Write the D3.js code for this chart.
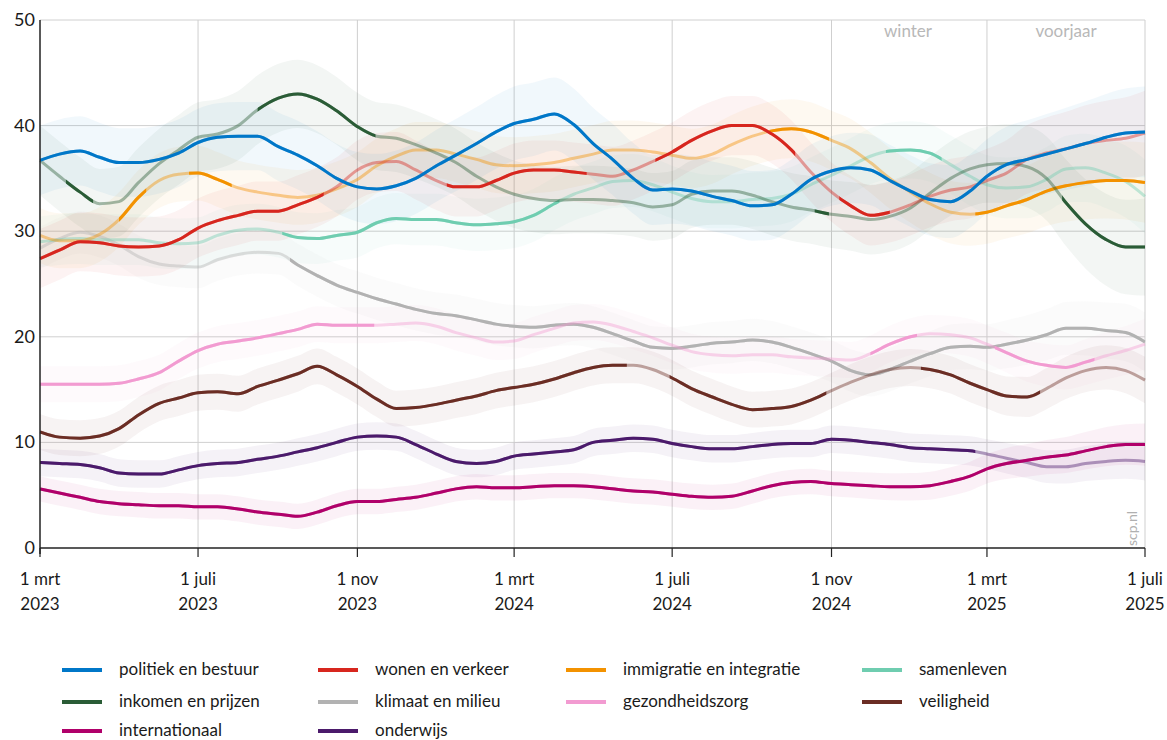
<!DOCTYPE html>
<html><head><meta charset="utf-8">
<script src="https://cdn.jsdelivr.net/npm/d3@7"></script>
<style>
body{margin:0;background:#fff;}
svg text{font-family:Lato,"Open Sans",sans-serif;}
</style></head><body>
<svg id="chart" width="1167" height="740"></svg>
<script>
// ---------- data ----------
const dates = [
 "2023-03-01","2023-03-16","2023-04-01","2023-04-16","2023-05-01","2023-05-16","2023-06-01","2023-06-16",
 "2023-07-01","2023-07-16","2023-08-01","2023-08-16","2023-09-01","2023-09-16","2023-10-01","2023-10-16",
 "2023-11-01","2023-11-16","2023-12-01","2023-12-16",
 "2024-01-01","2024-01-16","2024-02-01","2024-02-16","2024-03-01","2024-03-16","2024-04-01","2024-04-16",
 "2024-05-01","2024-05-16","2024-06-01","2024-06-16","2024-07-01","2024-07-16","2024-08-01","2024-08-16",
 "2024-09-01","2024-09-16","2024-10-01","2024-10-16","2024-11-01","2024-11-16","2024-12-01","2024-12-16",
 "2025-01-01","2025-01-16","2025-02-01","2025-02-16","2025-03-01","2025-03-16","2025-04-01","2025-04-16",
 "2025-05-01","2025-05-16","2025-06-01","2025-06-16","2025-07-01"];

const tickDates = ["2023-03-01","2023-07-01","2023-11-01","2024-03-01","2024-07-01","2024-11-01","2025-03-01","2025-07-01"];
const tickLine1 = ["1 mrt","1 juli","1 nov","1 mrt","1 juli","1 nov","1 mrt","1 juli"];
const tickLine2 = ["2023","2023","2023","2024","2024","2024","2025","2025"];
const yTicks = [0,10,20,30,40,50];

const categories = ["politiek en bestuur","wonen en verkeer","immigratie en integratie","samenleven",
  "inkomen en prijzen","klimaat en milieu","gezondheidszorg","veiligheid","internationaal","onderwijs"];
const colors = ["#0077c8","#d7261e","#f39200","#6fcdb0","#2a5c36","#b2b2b2","#f29bd1","#6b2d24","#b0006a","#4b1a6b"];

const politiek = [36.7,37.3,37.6,37.0,36.5,36.5,36.8,37.4,38.4,38.9,39.0,39.0,38.0,37.2,36.2,35.0,34.2,34.0,34.3,35.0,
  36.2,37.2,38.3,39.4,40.2,40.6,41.1,40.1,38.3,36.8,35.0,33.9,34.0,33.8,33.3,32.9,32.4,32.5,33.5,34.9,
  35.7,36.0,35.8,34.8,33.8,33.0,32.8,33.8,35.2,36.3,36.8,37.3,37.8,38.3,38.9,39.3,39.4];
const wonen = [27.4,28.2,29.0,28.9,28.6,28.5,28.6,29.2,30.3,31.0,31.5,31.9,31.9,32.5,33.2,34.2,35.8,36.5,36.6,35.8,
  34.8,34.2,34.2,34.8,35.5,35.8,35.8,35.6,35.4,35.2,35.8,36.6,37.5,38.6,39.5,40.0,40.0,39.2,37.7,35.6,
  33.7,32.4,31.5,31.8,32.5,33.3,33.9,34.2,34.8,35.5,36.8,37.4,37.8,38.3,38.6,38.8,39.3];
const immigratie = [29.6,29.1,29.1,29.7,31.1,33.2,34.8,35.4,35.5,34.9,34.1,33.7,33.4,33.2,33.4,34.0,34.9,36.2,37.1,37.7,
  37.7,37.3,36.8,36.3,36.2,36.3,36.5,36.9,37.3,37.7,37.7,37.5,37.2,36.9,37.3,38.2,39.0,39.5,39.7,39.4,
  38.6,37.8,36.5,35.0,33.7,32.6,31.8,31.6,31.8,32.4,33.0,33.8,34.3,34.6,34.8,34.8,34.6];
const samenleven = [29.0,29.2,29.3,29.2,29.2,29.2,28.9,28.8,28.9,29.6,30.1,30.2,29.9,29.4,29.3,29.6,29.9,30.8,31.2,31.1,
  31.1,30.8,30.6,30.7,30.9,31.5,32.6,33.5,34.1,34.7,34.8,34.4,33.7,33.1,32.8,32.8,33.0,33.1,33.5,34.4,
  35.3,36.2,37.1,37.6,37.7,37.4,36.3,35.2,34.4,34.1,34.2,34.9,35.9,36.0,35.5,34.7,33.3];
const inkomen = [36.7,35.2,33.7,32.6,32.8,34.6,36.4,37.7,38.9,39.2,40.0,41.5,42.6,43.0,42.5,41.4,39.9,39.0,38.8,38.2,
  37.4,36.5,35.2,34.2,33.5,33.1,32.9,33.0,33.0,32.9,32.7,32.3,32.5,33.5,33.8,33.8,33.4,32.8,32.3,32.0,
  31.6,31.4,31.1,31.4,32.2,33.6,35.0,35.9,36.3,36.4,36.1,35.0,32.7,30.7,29.2,28.5,28.5];
const klimaat = [28.4,29.3,29.9,29.5,28.7,27.6,26.9,26.7,26.6,27.3,27.8,28.0,27.9,26.8,25.8,24.9,24.2,23.6,23.1,22.6,
  22.2,22.0,21.6,21.2,21.0,20.9,21.1,21.2,20.9,20.3,19.6,19.0,18.9,19.1,19.4,19.5,19.7,19.5,19.0,18.4,
  17.7,16.8,16.4,16.9,17.7,18.4,19.0,19.1,19.0,19.3,19.7,20.2,20.8,20.8,20.6,20.4,19.5];
const gezondheid = [15.5,15.5,15.5,15.5,15.6,16.0,16.6,17.7,18.7,19.3,19.6,19.9,20.3,20.7,21.2,21.1,21.1,21.1,21.2,21.3,
  21.0,20.4,19.9,19.5,19.6,20.2,20.8,21.3,21.4,21.1,20.5,19.9,19.2,18.6,18.3,18.2,18.3,18.3,18.1,18.0,
  17.9,17.8,18.4,19.3,20.0,20.3,20.2,19.9,19.3,18.5,17.7,17.3,17.1,17.6,18.2,18.7,19.3];
const veiligheid = [11.0,10.5,10.4,10.6,11.3,12.6,13.7,14.2,14.7,14.8,14.6,15.3,15.9,16.5,17.2,16.4,15.3,14.1,13.2,13.3,
  13.6,14.0,14.4,14.9,15.2,15.5,16.0,16.6,17.1,17.3,17.3,16.9,16.1,15.1,14.3,13.6,13.1,13.2,13.4,14.0,
  14.9,15.7,16.4,16.9,17.1,16.9,16.4,15.6,15.0,14.4,14.3,15.1,16.1,16.8,17.1,16.8,15.9];
const internationaal = [5.6,5.2,4.8,4.4,4.2,4.1,4.0,4.0,3.9,3.9,3.7,3.4,3.2,3.0,3.4,4.0,4.4,4.4,4.6,4.8,
  5.2,5.6,5.8,5.7,5.7,5.8,5.9,5.9,5.8,5.6,5.4,5.3,5.1,4.9,4.8,4.9,5.4,5.9,6.2,6.3,
  6.1,6.0,5.9,5.8,5.8,5.9,6.3,6.8,7.5,8.0,8.3,8.6,8.8,9.2,9.6,9.8,9.8];
const onderwijs = [8.1,8.0,7.9,7.6,7.1,7.0,7.0,7.4,7.8,8.0,8.1,8.4,8.7,9.1,9.5,10.0,10.5,10.6,10.5,9.8,
  8.9,8.2,8.0,8.2,8.7,8.9,9.1,9.3,10.0,10.2,10.4,10.3,9.9,9.6,9.4,9.4,9.6,9.8,9.9,9.9,
  10.3,10.2,10.0,9.8,9.5,9.4,9.3,9.2,8.9,8.5,8.1,7.7,7.7,8.0,8.2,8.3,8.2];

// half-width of the uncertainty band, read at the tick dates
const bandPolitiek = [3.3,3.2,3.3,3.5,3.3,3.3,3.5,4.3];
const bandWonen = [2.8,2.8,2.8,2.8,2.8,2.8,3.0,4.0];
const bandImmigratie = [2.6,2.6,2.6,2.7,2.8,2.8,3.0,3.8];
const bandSamenleven = [2.4,2.4,2.4,2.5,2.5,2.6,2.8,3.5];
const bandInkomen = [3.3,3.3,3.2,3.2,3.2,3.2,3.6,4.6];
const bandKlimaat = [2.0,2.0,2.0,2.0,2.0,2.0,2.2,2.8];
const bandGezondheid = [1.7,1.7,1.7,1.7,1.7,1.7,1.8,2.4];
const bandVeiligheid = [1.7,1.7,1.7,1.7,1.7,1.7,1.8,2.2];
const bandInternationaal = [1.2,1.2,1.2,1.2,1.2,1.2,1.4,2.0];
const bandOnderwijs = [1.3,1.3,1.3,1.3,1.3,1.3,1.4,1.8];

// periods in which the line is drawn at full strength (elsewhere it is faded)
const solidPolitiek = [["2023-03-01","2025-07-01"]];
const solidWonen = [["2023-03-01","2023-10-06"],["2024-01-09","2024-04-26"],["2024-06-18","2024-10-04"],["2024-11-07","2024-12-16"]];
const solidImmigratie = [["2023-05-01","2023-05-22"],["2023-06-24","2023-07-27"],["2024-09-14","2024-10-30"],["2025-02-20","2025-07-01"]];
const solidSamenleven = [["2023-09-04","2024-04-05"],["2024-12-13","2025-01-25"]];
const solidInkomen = [["2023-03-21","2023-04-11"],["2023-08-16","2023-11-15"],["2024-10-19","2024-10-30"],["2025-04-28","2025-07-01"]];
const solidKlimaat = [["2023-09-10","2025-07-01"]];
const solidGezondheid = [["2023-03-01","2023-11-14"],["2024-12-01","2025-01-06"],["2025-03-07","2025-05-23"]];
const solidVeiligheid = [["2023-03-01","2024-05-27"],["2024-06-29","2024-10-28"],["2025-01-09","2025-04-11"]];
const solidInternationaal = [["2023-03-01","2025-07-01"]];
const solidOnderwijs = [["2023-03-01","2025-02-20"]];

const seriesValues = [politiek,wonen,immigratie,samenleven,inkomen,klimaat,gezondheid,veiligheid,internationaal,onderwijs];
const seriesBands = [bandPolitiek,bandWonen,bandImmigratie,bandSamenleven,bandInkomen,bandKlimaat,bandGezondheid,bandVeiligheid,bandInternationaal,bandOnderwijs];
const seriesSolid = [solidPolitiek,solidWonen,solidImmigratie,solidSamenleven,solidInkomen,solidKlimaat,solidGezondheid,solidVeiligheid,solidInternationaal,solidOnderwijs];
const drawOrder = [5,6,7,9,8,3,2,4,1,0];

// ---------- chart ----------
const parse = d3.timeParse("%Y-%m-%d");
const svg = d3.select("#chart");
const M = {left:40, right:1145, top:20, bottom:548};
const x = d3.scaleTime().domain([parse(tickDates[0]), parse(tickDates[tickDates.length-1])]).range([M.left, M.right]);
const y = d3.scaleLinear().domain([0,50]).range([M.bottom, M.top]);
const dts = dates.map(parse);
const tks = tickDates.map(parse);

// grid
const grid = svg.append("g");
grid.selectAll("line.h").data(yTicks.filter(v=>v>0)).join("line")
  .attr("x1",M.left).attr("x2",M.right).attr("y1",d=>y(d)).attr("y2",d=>y(d))
  .attr("stroke","#d0d0d0").attr("stroke-width",1);
grid.selectAll("line.v").data(tks.slice(1)).join("line")
  .attr("x1",d=>x(d)).attr("x2",d=>x(d)).attr("y1",M.top).attr("y2",M.bottom)
  .attr("stroke","#cfcfcf").attr("stroke-width",1);

// season labels
svg.append("text").attr("x",908).attr("y",37).attr("text-anchor","middle")
  .attr("font-size",17).attr("fill","#b8b8b8").text("winter");
svg.append("text").attr("x",1066).attr("y",37).attr("text-anchor","middle")
  .attr("font-size",17).attr("fill","#b8b8b8").text("voorjaar");

// bands
const defs = svg.append("defs");
const bandG = svg.append("g");
const lineG = svg.append("g");
drawOrder.forEach(k => {
  const vals = seriesValues[k];
  const hw = d3.scaleTime().domain(tks).range(seriesBands[k]);
  const data = dts.map((d,i)=>({d, v:vals[i], h:hw(d)}));
  const area = d3.area().x(p=>x(p.d)).y0(p=>y(p.v - p.h)).y1(p=>y(p.v + p.h)).curve(d3.curveMonotoneX);
  bandG.append("path").datum(data).attr("d",area)
    .attr("fill",colors[k]).attr("fill-opacity",0.055);
});

drawOrder.forEach(k => {
  const vals = seriesValues[k];
  const data = dts.map((d,i)=>({d, v:vals[i]}));
  const line = d3.line().x(p=>x(p.d)).y(p=>y(p.v)).curve(d3.curveMonotoneX);
  // faded full line
  lineG.append("path").datum(data).attr("d",line)
    .attr("fill","none").attr("stroke",colors[k]).attr("stroke-width",3)
    .attr("stroke-opacity",0.42).attr("stroke-linejoin","round");
  // solid parts
  const cp = defs.append("clipPath").attr("id","clip"+k);
  cp.selectAll("rect").data(seriesSolid[k]).join("rect")
    .attr("x",r=>x(parse(r[0]))).attr("width",r=>x(parse(r[1]))-x(parse(r[0])))
    .attr("y",0).attr("height",M.bottom+10);
  lineG.append("path").datum(data).attr("d",line)
    .attr("clip-path","url(#clip"+k+")")
    .attr("fill","none").attr("stroke",colors[k]).attr("stroke-width",3)
    .attr("stroke-linejoin","round");
});

// axes
svg.append("line").attr("x1",M.left).attr("x2",M.left).attr("y1",M.top).attr("y2",M.bottom+6)
  .attr("stroke","#222").attr("stroke-width",1.5);
svg.append("line").attr("x1",M.left).attr("x2",M.right).attr("y1",M.bottom).attr("y2",M.bottom)
  .attr("stroke","#222").attr("stroke-width",1.5);
svg.selectAll("line.xt").data(tks).join("line")
  .attr("x1",d=>x(d)).attr("x2",d=>x(d)).attr("y1",M.bottom).attr("y2",M.bottom+9)
  .attr("stroke","#222").attr("stroke-width",1.2);
svg.selectAll("text.yl").data(yTicks).join("text")
  .attr("x",35).attr("y",d=>y(d)+6).attr("text-anchor","end")
  .attr("font-size",18).attr("fill","#1a1a1a").text(d=>d);
svg.selectAll("text.xl1").data(tks).join("text")
  .attr("x",d=>x(d)).attr("y",585).attr("text-anchor","middle")
  .attr("font-size",17).attr("fill","#1a1a1a").text((d,i)=>tickLine1[i]);
svg.selectAll("text.xl2").data(tks).join("text")
  .attr("x",d=>x(d)).attr("y",610).attr("text-anchor","middle")
  .attr("font-size",17).attr("fill","#1a1a1a").text((d,i)=>tickLine2[i]);

// source
svg.append("text").attr("transform","translate(1137,546) rotate(-90)")
  .attr("font-size",14).attr("fill","#b0b0b0").text("scp.nl");

// legend
const colX = [62,318,566,862];
const rowY = [670,702,731];
categories.forEach((c,i)=>{
  const cx = colX[i%4], ry = rowY[Math.floor(i/4)];
  svg.append("line").attr("x1",cx).attr("x2",cx+40).attr("y1",ry).attr("y2",ry)
    .attr("stroke",colors[i]).attr("stroke-width",4);
  svg.append("text").attr("x",cx+57).attr("y",ry+5).attr("font-size",17)
    .attr("fill","#1a1a1a").text(c);
});
</script>
</body></html>
